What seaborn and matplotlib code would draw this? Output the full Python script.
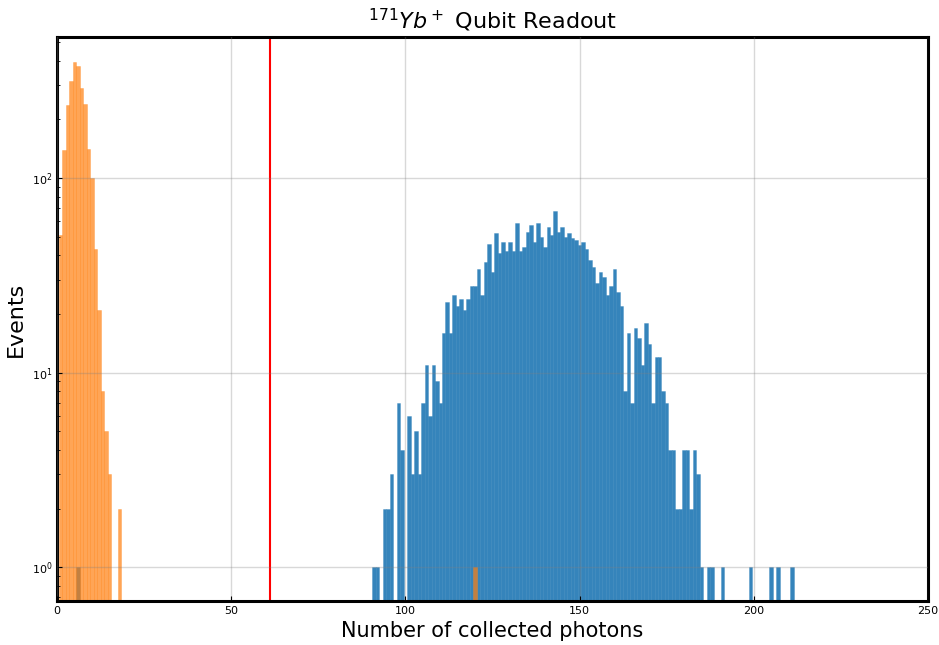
import numpy as np
import pandas as pd
import matplotlib
matplotlib.use("Agg")
import matplotlib.pyplot as plt
from matplotlib.colors import to_rgba
import seaborn as sns

# Photon-count histograms: dark state (orange) and bright state (blue)
dark_photons = [1, 2, 3, 4, 5, 6, 7, 8, 9, 10, 11, 12, 13, 14, 15, 18, 120]
dark_counts = [51, 140, 236, 316, 393, 376, 291, 241, 141, 100, 43, 21, 8, 5, 3, 2, 1]

bright_photons = [6] + list(range(91, 189)) + [191, 199, 205, 207, 211]
bright_counts = [1,
                 1, 1, 0, 2, 2, 3, 0, 7, 4, 0,          # 91-100
                 6, 3, 5, 3, 7, 11, 6, 11, 9, 7,        # 101-110
                 16, 23, 16, 25, 22, 24, 21, 24, 28, 28,  # 111-120
                 34, 25, 37, 46, 33, 52, 41, 47, 42, 47,  # 121-130
                 42, 59, 42, 44, 53, 57, 47, 59, 50, 44,  # 131-140
                 56, 51, 68, 53, 56, 50, 52, 49, 48, 45,  # 141-150
                 47, 43, 38, 35, 29, 33, 31, 25, 28, 34,  # 151-160
                 26, 22, 8, 16, 7, 17, 15, 11, 18, 14,   # 161-170
                 7, 12, 12, 8, 7, 4, 4, 2, 2, 4,         # 171-180
                 4, 2, 4, 3, 1, 0, 1, 1,                 # 181-188
                 1, 1, 1, 1, 1]

threshold = 61
x_ticks = [0, 50, 100, 150, 200, 250]

bright = pd.DataFrame({"photons": bright_photons, "events": bright_counts})
dark = pd.DataFrame({"photons": dark_photons, "events": dark_counts})

plt.rcParams["font.family"] = ["DejaVu Sans"]
fig = plt.figure(figsize=(9.39, 6.45), dpi=100)
ax = fig.add_axes([0.0607, 0.0682, 0.9276, 0.8744])

hist_kw = dict(binwidth=1, binrange=(-0.5, 250.5), linewidth=0.4, ax=ax)
sns.histplot(data=bright, x="photons", weights="events",
             color="#1f77b4", alpha=0.9,
             edgecolor=to_rgba("#1f77b4", 0.5), **hist_kw)
sns.histplot(data=dark, x="photons", weights="events",
             color="#ff7f0e", alpha=0.7,
             edgecolor=to_rgba("#ff7f0e", 0.5), **hist_kw)

ax.axvline(threshold, color="red", linewidth=1.5)

ax.set_yscale("log")
ax.set_xlim(0, 250)
ax.set_ylim(0.67, 530)
ax.set_xticks(x_ticks)

ax.grid(True, which="major", color="#808080", alpha=0.3, linewidth=1)
ax.set_axisbelow(False)

ax.tick_params(axis="both", which="both", direction="in", labelsize=8)
for spine in ax.spines.values():
    spine.set_linewidth(2.2)
    spine.set_color("black")

ax.set_title(r"$^{171}Yb^+$ Qubit Readout", fontsize=16)
ax.set_xlabel("Number of collected photons", fontsize=15)
ax.set_ylabel("Events", fontsize=16)

fig.savefig("out.png", dpi=100)
